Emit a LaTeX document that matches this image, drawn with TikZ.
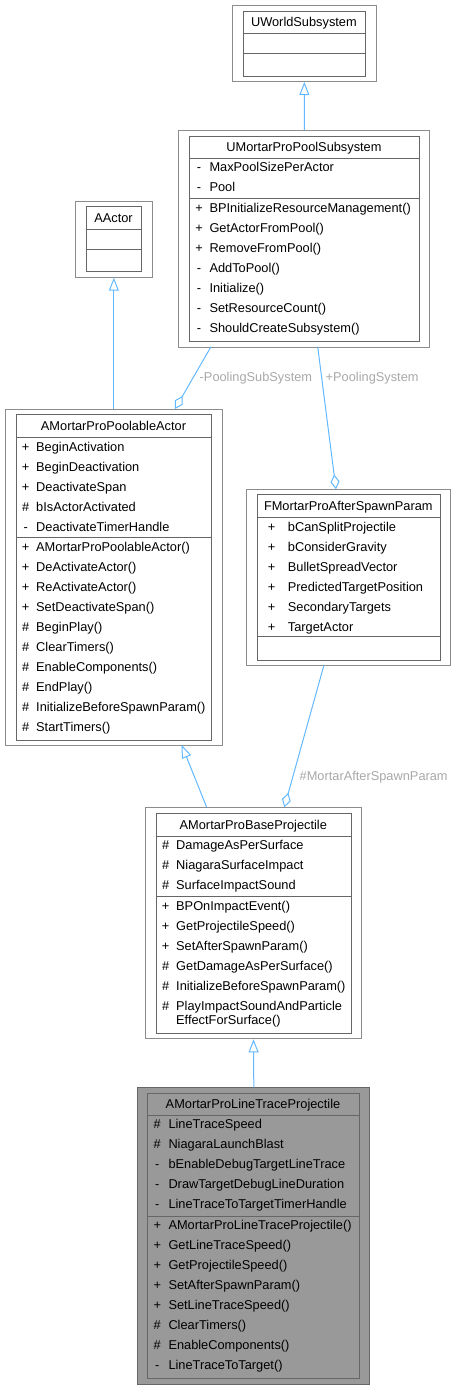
\documentclass[tikz,border=0pt]{standalone}
\usepackage{fontspec}
\setmainfont{Liberation Sans}
\usetikzlibrary{arrows.meta}
\definecolor{edgec}{HTML}{63B8FF}
\definecolor{outerc}{HTML}{8C8C8C}
\definecolor{innerc}{HTML}{666666}
\definecolor{labc}{HTML}{A8A8A8}
\definecolor{hlfill}{HTML}{999999}
\begin{document}
\begin{tikzpicture}[x=1pt,y=-1pt,
  outerbox/.style={draw=outerc, line width=1pt, fill=white, rectangle, inner sep=0pt, anchor=north west},
  innerbox/.style={draw=innerc, line width=1pt, fill=white, rectangle, inner sep=0pt, anchor=north west},
  hlouter/.style={outerbox, draw=innerc, fill=hlfill},
  hlinner/.style={innerbox, fill=hlfill},
  sepline/.style={draw=innerc, line width=1pt},
  txt/.style={font=\fontsize{12.8}{14.3}\selectfont, inner sep=0pt, anchor=base west},
  sym/.style={font=\fontsize{12.8}{14.3}\selectfont, inner sep=0pt, anchor=base},
  ttl/.style={font=\fontsize{12.8}{14.3}\selectfont, inner sep=0pt, anchor=base},
  lbl/.style={font=\fontsize{12.8}{14.3}\selectfont, inner sep=0pt, anchor=base west, text=labc},
  inh/.style={draw=edgec, line width=1pt, -{Triangle[open, length=13pt, width=10pt]}},
  agg/.style={draw=edgec, line width=1pt, -{Diamond[open, length=15pt, width=9pt]}}
]
\useasboundingbox (0,0) rectangle (455,1389);

% ---------- UWorldSubsystem ----------
\node[outerbox, minimum width=144.3pt, minimum height=76pt] (uw) at (231.7,5) {};
\node[innerbox, minimum width=122.3pt, minimum height=65.3pt] (uwi) at (242.7,10.7) {};
\draw[sepline] (242.7,33.7) -- (365,33.7) (242.7,53.7) -- (365,53.7);
\node[ttl] (uw-t) at (303.9,26.8) {UWorldSubsystem};

% ---------- AActor ----------
\node[outerbox, minimum width=76.7pt, minimum height=76pt] (aa) at (75,200.7) {};
\node[innerbox, minimum width=55pt, minimum height=65.3pt] (aai) at (86,205.7) {};
\draw[sepline] (86,229) -- (141,229) (86,249.3) -- (141,249.3);
\node[ttl] (aa-t) at (113.5,222.8) {AActor};

% ---------- UMortarProPoolSubsystem ----------
\node[outerbox, minimum width=251pt, minimum height=216.7pt] (pool) at (178.3,130) {};
\node[innerbox, minimum width=229.4pt, minimum height=205.3pt] (pooli) at (189.3,135.7) {};
\draw[sepline] (189.3,158.7) -- (418.7,158.7) (189.3,198.3) -- (418.7,198.3);
\node[ttl] (pool-t) at (304,151.2) {UMortarProPoolSubsystem};
\foreach \s/\t [count=\i] in {-/MaxPoolSizePerActor, -/Pool}{
  \node[sym] (pool-as\i) at (199,{171.8+20*(\i-1)}) {\s};
  \node[txt] (pool-at\i) at (209.3,{171.8+20*(\i-1)}) {\t};
}
\foreach \s/\t [count=\i] in {+/BPInitializeResourceManagement(), +/GetActorFromPool(), +/RemoveFromPool(), -/AddToPool(), -/Initialize(), -/SetResourceCount(), -/ShouldCreateSubsystem()}{
  \node[sym] (pool-ms\i) at (199,{212.5+20*(\i-1)}) {\s};
  \node[txt] (pool-mt\i) at (209.3,{212.5+20*(\i-1)}) {\t};
}

% ---------- AMortarProPoolableActor ----------
\node[outerbox, minimum width=216.7pt, minimum height=336pt] (pa) at (5,409) {};
\node[innerbox, minimum width=195pt, minimum height=325.7pt] (pai) at (16,414.3) {};
\draw[sepline] (16,437.7) -- (211,437.7) (16,537.3) -- (211,537.3);
\node[ttl] (pa-t) at (113.5,430.5) {AMortarProPoolableActor};
\foreach \s/\t [count=\i] in {+/BeginActivation, +/BeginDeactivation, +/DeactivateSpan, \#/bIsActorActivated, -/DeactivateTimerHandle}{
  \node[sym] (pa-as\i) at (25.7,{451.2+20*(\i-1)}) {\s};
  \node[txt] (pa-at\i) at (36,{451.2+20*(\i-1)}) {\t};
}
\foreach \s/\t [count=\i] in {+/AMortarProPoolableActor(), +/DeActivateActor(), +/ReActivateActor(), +/SetDeactivateSpan(), \#/BeginPlay(), \#/ClearTimers(), \#/EnableComponents(), \#/EndPlay(), \#/InitializeBeforeSpawnParam(), \#/StartTimers()}{
  \node[sym] (pa-ms\i) at (25.7,{551.8+20*(\i-1)}) {\s};
  \node[txt] (pa-mt\i) at (36,{551.8+20*(\i-1)}) {\t};
}

% ---------- FMortarProAfterSpawnParam ----------
\node[outerbox, minimum width=204.3pt, minimum height=175.7pt] (fa) at (245.7,489.3) {};
\node[innerbox, minimum width=183.3pt, minimum height=165.7pt] (fai) at (256.7,494.3) {};
\draw[sepline] (256.7,517.3) -- (440,517.3) (256.7,636.7) -- (440,636.7);
\node[ttl] (fa-t) at (348.3,510.5) {FMortarProAfterSpawnParam};
\foreach \s/\t [count=\i] in {+/bCanSplitProjectile, +/bConsiderGravity, +/BulletSpreadVector, +/PredictedTargetPosition, +/SecondaryTargets, +/TargetActor}{
  \node[sym] (fa-as\i) at (271.7,{531.2+20*(\i-1)}) {\s};
  \node[txt] (fa-at\i) at (287.7,{531.2+20*(\i-1)}) {\t};
}

% ---------- AMortarProBaseProjectile ----------
\node[outerbox, minimum width=216pt, minimum height=231pt] (bp) at (145,807.3) {};
\node[innerbox, minimum width=194.7pt, minimum height=220pt] (bpi) at (156,813.3) {};
\draw[sepline] (156,836.7) -- (350.7,836.7) (156,896.7) -- (350.7,896.7);
\node[ttl] (bp-t) at (253.3,829.5) {AMortarProBaseProjectile};
\foreach \s/\t [count=\i] in {\#/DamageAsPerSurface, \#/NiagaraSurfaceImpact, \#/SurfaceImpactSound}{
  \node[sym] (bp-as\i) at (165.7,{849.5+20*(\i-1)}) {\s};
  \node[txt] (bp-at\i) at (176,{849.5+20*(\i-1)}) {\t};
}
\foreach \s/\t [count=\i] in {+/BPOnImpactEvent(), +/GetProjectileSpeed(), +/SetAfterSpawnParam(), \#/GetDamageAsPerSurface(), \#/InitializeBeforeSpawnParam(), \#/PlayImpactSoundAndParticle}{
  \node[sym] (bp-ms\i) at (165.7,{910.5+20*(\i-1)}) {\s};
  \node[txt] (bp-mt\i) at (176,{910.5+20*(\i-1)}) {\t};
}
\node[txt] (bp-mt7) at (176,1024.8) {EffectForSurface()};

% ---------- AMortarProLineTraceProjectile ----------
\node[hlouter, minimum width=232pt, minimum height=296.7pt] (lt) at (137.3,1087.3) {};
\node[hlinner, minimum width=211.4pt, minimum height=285pt] (lti) at (147.3,1093.3) {};
\draw[sepline] (147.3,1115.7) -- (358.7,1115.7) (147.3,1216) -- (358.7,1216);
\node[ttl] (lt-t) at (253,1108.8) {AMortarProLineTraceProjectile};
\foreach \s/\t [count=\i] in {\#/LineTraceSpeed, \#/NiagaraLaunchBlast, -/bEnableDebugTargetLineTrace, -/DrawTargetDebugLineDuration, -/LineTraceToTargetTimerHandle}{
  \node[sym] (lt-as\i) at (157.3,{1128.8+20*(\i-1)}) {\s};
  \node[txt] (lt-at\i) at (168.3,{1128.8+20*(\i-1)}) {\t};
}
\foreach \s/\t [count=\i] in {+/AMortarProLineTraceProjectile(), +/GetLineTraceSpeed(), +/GetProjectileSpeed(), +/SetAfterSpawnParam(), +/SetLineTraceSpeed(), \#/ClearTimers(), \#/EnableComponents(), -/LineTraceToTarget()}{
  \node[sym] (lt-ms\i) at (157.3,{1229.5+20*(\i-1)}) {\s};
  \node[txt] (lt-mt\i) at (168.3,{1229.5+20*(\i-1)}) {\t};
}

% ---------- connectors ----------
\coordinate (pool-c1) at (211,346.7);
\coordinate (pa-c1) at (175,409);
\coordinate (pool-c2) at (317.7,346.7);
\coordinate (fa-c1) at (336,489.3);
\coordinate (fa-c2) at (324,665);
\coordinate (bp-c1) at (284.3,807.3);
\coordinate (bp-c2) at (206.7,807.3);
\coordinate (pa-c2) at (181.7,745);

\draw[inh] (pool.north) -- (uw.south);
\draw[inh] (pa.north) -- (aa.south);
\draw[inh] (bp-c2) -- (pa-c2);
\draw[inh] (lt.north) -- (bp.south);
\draw[agg] (pool-c1) -- (pa-c1);
\draw[agg] (pool-c2) -- (fa-c1);
\draw[agg] (fa-c2) -- (bp-c1);

\node[lbl] (l1) at (199.5,381.2) {-PoolingSubSystem};
\node[lbl] (l2) at (325.5,381.2) {+PoolingSystem};
\node[lbl] (l3) at (299.5,780.5) {\#MortarAfterSpawnParam};
\end{tikzpicture}
\end{document}
